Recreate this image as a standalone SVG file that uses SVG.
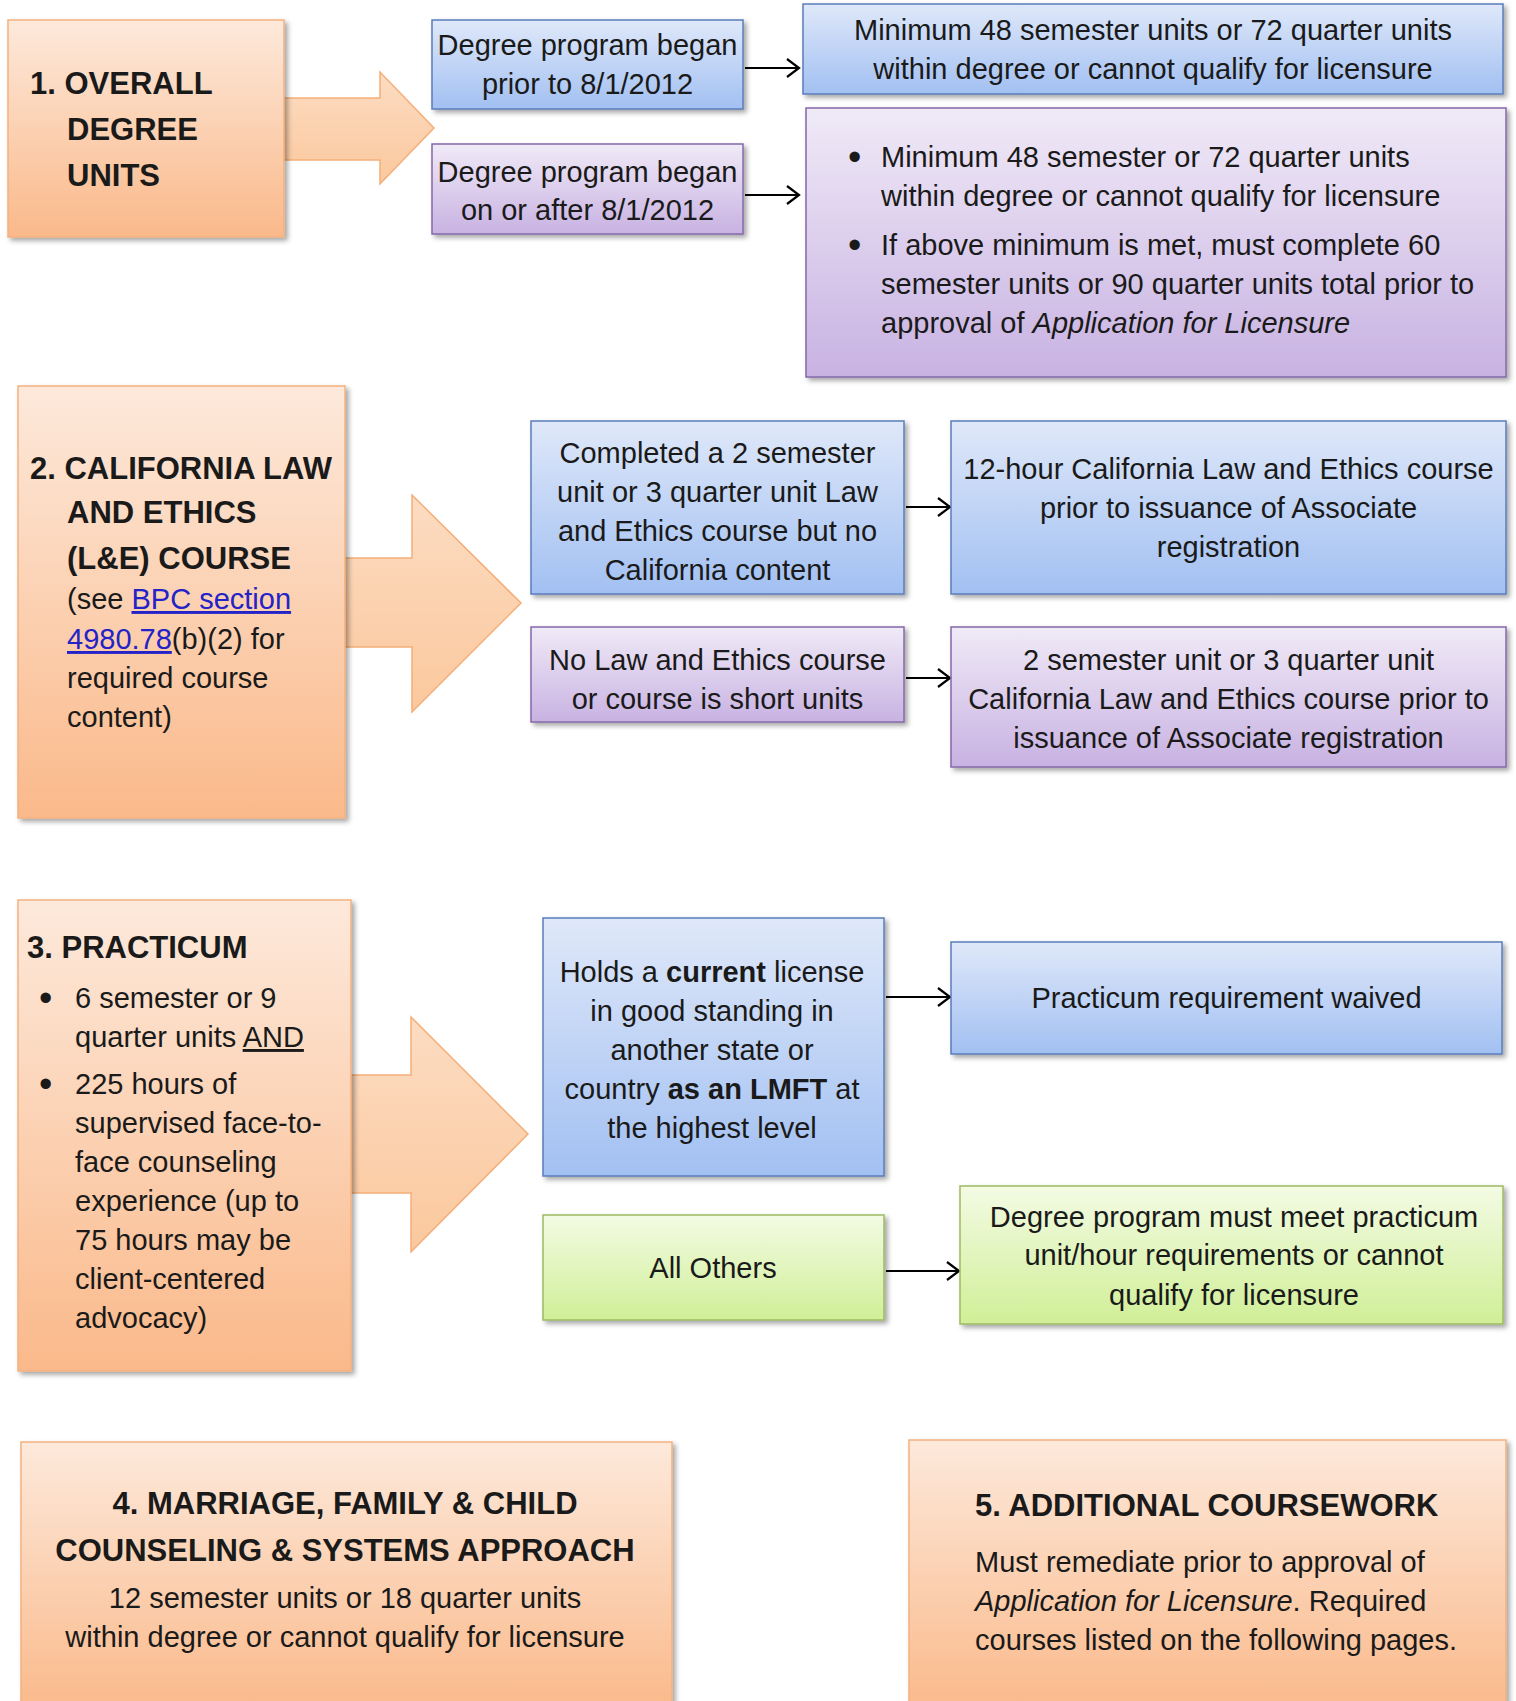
<svg xmlns="http://www.w3.org/2000/svg" width="1516" height="1701" viewBox="0 0 1516 1701">
<defs>
  <linearGradient id="gOrange" x1="0" y1="0" x2="0" y2="1">
    <stop offset="0" stop-color="#fde9db"/>
    <stop offset="1" stop-color="#fab98a"/>
  </linearGradient>
  <linearGradient id="gArrow" x1="0" y1="0" x2="0" y2="1">
    <stop offset="0" stop-color="#fcdcc2"/>
    <stop offset="1" stop-color="#fbc89d"/>
  </linearGradient>
  <linearGradient id="gBlue" x1="0" y1="0" x2="0" y2="1">
    <stop offset="0" stop-color="#dfe8f9"/>
    <stop offset="1" stop-color="#a2c0f2"/>
  </linearGradient>
  <linearGradient id="gPurple" x1="0" y1="0" x2="0" y2="1">
    <stop offset="0" stop-color="#f0eaf7"/>
    <stop offset="1" stop-color="#c8b2e2"/>
  </linearGradient>
  <linearGradient id="gGreen" x1="0" y1="0" x2="0" y2="1">
    <stop offset="0" stop-color="#f3fbe4"/>
    <stop offset="1" stop-color="#d0ef97"/>
  </linearGradient>
  <filter id="sh" x="-5%" y="-5%" width="115%" height="120%">
    <feDropShadow dx="3" dy="3" stdDeviation="2.5" flood-color="#000" flood-opacity="0.35"/>
  </filter>
  <marker id="ah" viewBox="0 0 16 22" refX="14" refY="11" markerWidth="16" markerHeight="22" markerUnits="userSpaceOnUse" orient="auto">
    <path d="M2,2 L14,11 L2,20" fill="none" stroke="#000" stroke-width="2.2"/>
  </marker>
  <style>
    .t{font-family:"Liberation Sans",Arial,sans-serif;font-size:29px;fill:#1a1a1a}
    .h{font-weight:bold;font-size:31px}
    .c{text-anchor:middle}
    .b{font-weight:bold}
    .i{font-style:italic}
    .u{text-decoration:underline}
    .bu{font-size:38px}
    .lnk{fill:#2323c8;text-decoration:underline}
    .or{fill:url(#gOrange);stroke:#f3b17f;stroke-width:1.5;filter:url(#sh)}
    .bl{fill:url(#gBlue);stroke:#5a7dbb;stroke-width:1.5;filter:url(#sh)}
    .pu{fill:url(#gPurple);stroke:#8468a8;stroke-width:1.5;filter:url(#sh)}
    .gr{fill:url(#gGreen);stroke:#9dbb62;stroke-width:1.5;filter:url(#sh)}
    .ba{fill:url(#gArrow);stroke:#f4ae78;stroke-width:1.5}
    .cn{fill:none;stroke:#000;stroke-width:2;marker-end:url(#ah)}
  </style>
</defs>
<rect width="1516" height="1701" fill="#ffffff"/>

<g id="connectors">
  <polygon class="ba" points="284,98 380,98 380,72 434,128 380,184 380,160 284,160"/>
  <polygon class="ba" points="345,558 412,558 412,495 521,603 412,712 412,647 345,647"/>
  <polygon class="ba" points="351,1075 411,1075 411,1017 528,1134 411,1252 411,1193 351,1193"/>
  <line class="cn" x1="745" y1="68" x2="799" y2="68"/>
  <line class="cn" x1="745" y1="195" x2="799" y2="195"/>
  <line class="cn" x1="906" y1="507" x2="950" y2="507"/>
  <line class="cn" x1="906" y1="678" x2="950" y2="678"/>
  <line class="cn" x1="886" y1="997" x2="950" y2="997"/>
  <line class="cn" x1="886" y1="1271" x2="959" y2="1271"/>
</g>

<g id="n1">
  <rect class="or" x="8" y="20" width="276" height="217"/>
  <text class="t h" x="30" y="94">1. OVERALL</text>
  <text class="t h" x="67" y="140">DEGREE</text>
  <text class="t h" x="67" y="186">UNITS</text>
</g>

<g id="a1">
  <rect class="bl" x="432" y="20" width="311" height="89"/>
  <text class="t c" x="587.5" y="55">Degree program began</text>
  <text class="t c" x="587.5" y="94">prior to 8/1/2012</text>
</g>

<g id="a2">
  <rect class="pu" x="432" y="144" width="311" height="90"/>
  <text class="t c" x="587.5" y="182">Degree program began</text>
  <text class="t c" x="587.5" y="220">on or after 8/1/2012</text>
</g>

<g id="b1">
  <rect class="bl" x="803" y="4" width="700" height="90"/>
  <text class="t c" x="1153" y="40">Minimum 48 semester units or 72 quarter units</text>
  <text class="t c" x="1153" y="79">within degree or cannot qualify for licensure</text>
</g>

<g id="b2">
  <rect class="pu" x="806" y="108" width="700" height="269"/>
  <text class="t bu" x="848" y="170">•</text>
  <text class="t" x="881" y="167">Minimum 48 semester or 72 quarter units</text>
  <text class="t" x="881" y="206">within degree or cannot qualify for licensure</text>
  <text class="t bu" x="848" y="258">•</text>
  <text class="t" x="881" y="255">If above minimum is met, must complete 60</text>
  <text class="t" x="881" y="294">semester units or 90 quarter units total prior to</text>
  <text class="t" x="881" y="333">approval of <tspan class="i">Application for Licensure</tspan></text>
</g>

<g id="n2">
  <rect class="or" x="18" y="386" width="327" height="432"/>
  <text class="t h" x="30" y="479">2. CALIFORNIA LAW</text>
  <text class="t h" x="67" y="523">AND ETHICS</text>
  <text class="t h" x="67" y="569">(L&amp;E) COURSE</text>
  <text class="t" x="67" y="609">(see <tspan class="lnk">BPC section</tspan></text>
  <text class="t" x="67" y="649"><tspan class="lnk">4980.78</tspan>(b)(2) for</text>
  <text class="t" x="67" y="688">required course</text>
  <text class="t" x="67" y="727">content)</text>
</g>

<g id="c1">
  <rect class="bl" x="531" y="421" width="373" height="173"/>
  <text class="t c" x="717.5" y="463">Completed a 2 semester</text>
  <text class="t c" x="717.5" y="502">unit or 3 quarter unit Law</text>
  <text class="t c" x="717.5" y="541">and Ethics course but no</text>
  <text class="t c" x="717.5" y="580">California content</text>
</g>

<g id="c2">
  <rect class="pu" x="531" y="627" width="373" height="95"/>
  <text class="t c" x="717.5" y="670">No Law and Ethics course</text>
  <text class="t c" x="717.5" y="709">or course is short units</text>
</g>

<g id="d1">
  <rect class="bl" x="951" y="421" width="555" height="173"/>
  <text class="t c" x="1228.5" y="479">12-hour California Law and Ethics course</text>
  <text class="t c" x="1228.5" y="518">prior to issuance of Associate</text>
  <text class="t c" x="1228.5" y="557">registration</text>
</g>

<g id="d2">
  <rect class="pu" x="951" y="627" width="555" height="140"/>
  <text class="t c" x="1228.5" y="670">2 semester unit or 3 quarter unit</text>
  <text class="t c" x="1228.5" y="709">California Law and Ethics course prior to</text>
  <text class="t c" x="1228.5" y="748">issuance of Associate registration</text>
</g>

<g id="n3">
  <rect class="or" x="18" y="900" width="333" height="471"/>
  <text class="t h" x="27" y="958">3. PRACTICUM</text>
  <text class="t bu" x="39" y="1011">•</text>
  <text class="t" x="75" y="1008">6 semester or 9</text>
  <text class="t" x="75" y="1047">quarter units <tspan class="u">AND</tspan></text>
  <text class="t bu" x="39" y="1097">•</text>
  <text class="t" x="75" y="1094">225 hours of</text>
  <text class="t" x="75" y="1133">supervised face-to-</text>
  <text class="t" x="75" y="1172">face counseling</text>
  <text class="t" x="75" y="1211">experience (up to</text>
  <text class="t" x="75" y="1250">75 hours may be</text>
  <text class="t" x="75" y="1289">client-centered</text>
  <text class="t" x="75" y="1328">advocacy)</text>
</g>

<g id="e1">
  <rect class="bl" x="543" y="918" width="341" height="258"/>
  <text class="t c" x="712" y="982">Holds a <tspan class="b">current</tspan> license</text>
  <text class="t c" x="712" y="1021">in good standing in</text>
  <text class="t c" x="712" y="1060">another state or</text>
  <text class="t c" x="712" y="1099">country <tspan class="b">as an LMFT</tspan> at</text>
  <text class="t c" x="712" y="1138">the highest level</text>
</g>

<g id="e2">
  <rect class="gr" x="543" y="1215" width="341" height="105"/>
  <text class="t c" x="713" y="1278">All Others</text>
</g>

<g id="f1">
  <rect class="bl" x="951" y="942" width="551" height="112"/>
  <text class="t c" x="1226.5" y="1008">Practicum requirement waived</text>
</g>

<g id="f2">
  <rect class="gr" x="960" y="1186" width="543" height="138"/>
  <text class="t c" x="1234" y="1227">Degree program must meet practicum</text>
  <text class="t c" x="1234" y="1265">unit/hour requirements or cannot</text>
  <text class="t c" x="1234" y="1305">qualify for licensure</text>
</g>

<g id="n4">
  <rect class="or" x="21" y="1442" width="651" height="270"/>
  <text class="t h c" x="345" y="1514">4. MARRIAGE, FAMILY &amp; CHILD</text>
  <text class="t h c" x="345" y="1561">COUNSELING &amp; SYSTEMS APPROACH</text>
  <text class="t c" x="345" y="1608">12 semester units or 18 quarter units</text>
  <text class="t c" x="345" y="1647">within degree or cannot qualify for licensure</text>
</g>

<g id="n5">
  <rect class="or" x="909" y="1440" width="597" height="272"/>
  <text class="t h" x="975" y="1516">5. ADDITIONAL COURSEWORK</text>
  <text class="t" x="975" y="1572">Must remediate prior to approval of</text>
  <text class="t" x="975" y="1611"><tspan class="i">Application for Licensure</tspan>. Required</text>
  <text class="t" x="975" y="1650">courses listed on the following pages.</text>
</g>
</svg>
